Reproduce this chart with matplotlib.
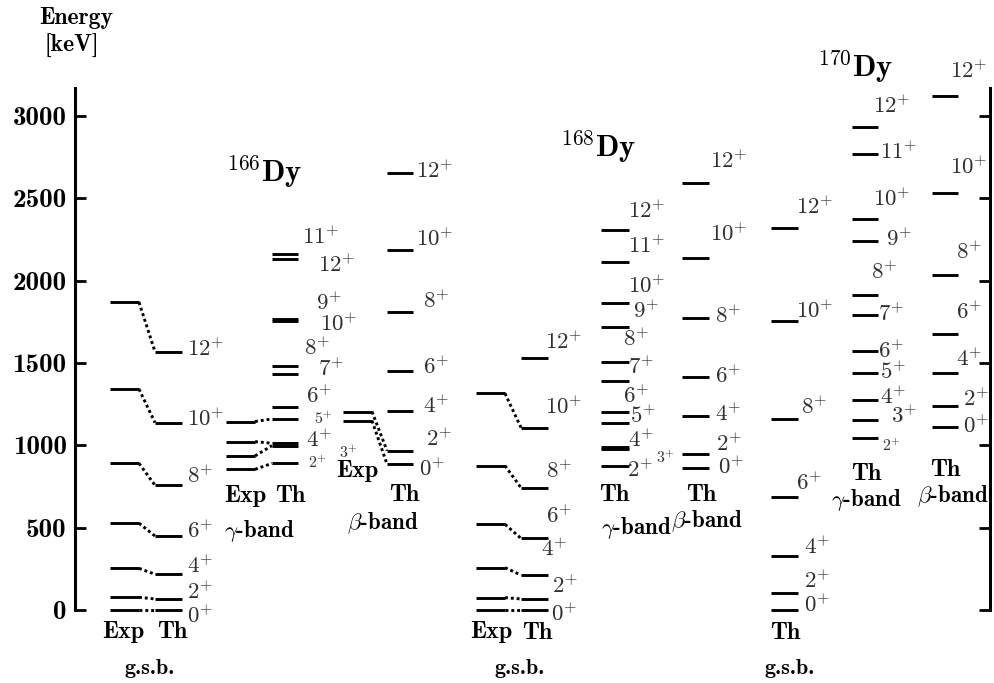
import matplotlib
matplotlib.use("Agg")
import matplotlib.pyplot as plt

# ---------------- data (keV) ----------------
gsb_spins = [0, 2, 4, 6, 8, 10, 12]
beta_spins = [0, 2, 4, 6, 8, 10, 12]
gam_spins = [2, 3, 4, 5, 6, 7, 8, 9, 10, 11, 12]

dy166_gsb_exp = [0, 77, 253, 527, 890, 1341, 1868]
dy166_gsb_th = [0, 67, 217, 449, 757, 1137, 1568]
dy166_gam_exp_spins = [2, 3, 4, 5]
dy166_gam_exp = [854, 935, 1022, 1144]
dy166_gam_th = [890, 998, 1012, 1160, 1230, 1432, 1483, 1768, 1752, 2160, 2128]
dy166_beta_exp_spins = [0, 2]
dy166_beta_exp = [1149, 1204]
dy166_beta_th = [886, 967, 1210, 1453, 1811, 2185, 2651]

dy168_gsb_exp_spins = [0, 2, 4, 6, 8, 10]
dy168_gsb_exp = [0, 75, 257, 520, 876, 1315]
dy168_gsb_th = [0, 67, 212, 435, 742, 1107, 1528]
dy168_gam_th = [872, 976, 987, 1133, 1200, 1392, 1503, 1720, 1866, 2114, 2307]
dy168_beta_th = [860, 945, 1179, 1416, 1774, 2135, 2594]

dy170_gsb_th = [0, 101, 330, 684, 1160, 1756, 2321]
dy170_gam_th = [1046, 1153, 1275, 1437, 1574, 1791, 1912, 2240, 2373, 2768, 2932]
dy170_beta_th = [1113, 1238, 1441, 1675, 2033, 2533, 3120]

yticks = [0, 500, 1000, 1500, 2000, 2500, 3000]

# ---------------- style / layout ----------------
plt.rcParams['mathtext.fontset'] = 'cm'
plt.rcParams['font.family'] = ['cmb10', 'DejaVu Sans']
plt.rcParams['axes.unicode_minus'] = False

W, H = 995, 683
Y0, SCALE = 610, 6.07          # pixel row of 0 keV, keV per pixel


def E(ypx):
    """pixel row -> energy coordinate (layout helper for text placement)"""
    return (Y0 - ypx) * SCALE


fig = plt.figure(figsize=(W / 100, H / 100), dpi=100)
ax = fig.add_axes([0, 0, 1, 1])
ax.set_xlim(0, W)
ax.set_ylim(E(H), E(0))
ax.patch.set_alpha(0)

for s in ('top', 'bottom'):
    ax.spines[s].set_visible(False)
ax.spines['left'].set_position(('data', 75))
ax.spines['right'].set_position(('data', 990))
ax.spines['left'].set_bounds(0, E(88))
ax.spines['right'].set_bounds(0, E(88))
for s in ('left', 'right'):
    ax.spines[s].set_linewidth(2.2)
ax.set_xticks([])
ax.set_yticks(yticks)
ax.set_yticklabels([str(v) for v in yticks])
ax.tick_params(axis='y', direction='in', length=8, width=2, left=True, right=True,
               labelleft=True, labelright=False, labelsize=19.5, pad=6)
for lab in ax.get_yticklabels():
    lab.set_fontfamily('cmb10')

LW = 2.1
LCOL = '#303030'
FS_LAB = 16.5
FS_SMALL = 11.5
FS_B = 17.5
FS_BAND = 16.5


def levels(x0, x1, vals):
    for v in vals:
        ax.plot([x0, x1], [v, v], color='black', lw=LW, solid_capstyle='butt')


def connect(xa, xb, va, vb):
    for a, b in zip(va, vb):
        ax.plot([xa, xb], [a, b], color='black', lw=LW, linestyle=(0, (1, 1)),
                dash_capstyle='butt')


def labels(spins, pos, small=()):
    for J, (x, y) in zip(spins, pos):
        fs = FS_SMALL if J in small else FS_LAB
        ax.text(x, E(y), r'$%d^{+}$' % J, fontsize=fs, color=LCOL,
                ha='left', va='center')


def btext(x, y, s, fs=FS_B):
    ax.text(x, E(y), s, fontsize=fs, ha='center', va='center',
            fontfamily='cmb10', color='black')


# ---------- 166Dy ----------
levels(110, 139, dy166_gsb_exp)
levels(155, 182, dy166_gsb_th)
connect(139, 155, dy166_gsb_exp, dy166_gsb_th)
labels(gsb_spins, [(187, 617), (187, 593), (187, 567), (187, 532),
                   (187, 477), (187, 420), (187, 350)])

levels(226, 255, dy166_gam_exp)
levels(272, 298, dy166_gam_th)
connect(255, 272, dy166_gam_exp,
        [dy166_gam_th[gam_spins.index(j)] for j in dy166_gam_exp_spins])
labels(gam_spins, [(308, 463), (339, 453), (306, 441), (314, 419), (306, 397),
                   (318, 370), (304, 349), (316, 304), (320, 325), (302, 238),
                   (318, 266)], small=(2, 3, 5))

levels(343, 372, dy166_beta_exp)
levels(387, 413, dy166_beta_th)
connect(372, 387, dy166_beta_exp,
        [dy166_beta_th[beta_spins.index(j)] for j in dy166_beta_exp_spins])
labels(beta_spins, [(419, 470), (426, 440), (423, 407), (423, 368), (423, 302),
                    (416, 240), (416, 172)])

# ---------- 168Dy ----------
levels(476, 505, dy168_gsb_exp)
levels(521, 548, dy168_gsb_th)
connect(505, 521, dy168_gsb_exp, dy168_gsb_th[:len(dy168_gsb_exp)])
labels(gsb_spins, [(551, 615), (552, 587), (541, 550), (546, 517), (546, 472),
                   (545, 408), (545, 343)])

levels(601, 629, dy168_gam_th)
labels(gam_spins, [(627, 471), (656, 458), (628, 441), (630, 417), (623, 397),
                   (628, 368), (623, 340), (633, 312), (628, 287), (628, 247),
                   (628, 212)], small=(3,))

levels(682, 709, dy168_beta_th)
labels(beta_spins, [(718, 468), (716, 445), (715, 415), (715, 377), (715, 317),
                    (710, 235), (710, 162)])

# ---------- 170Dy ----------
levels(771, 798, dy170_gsb_th)
labels(gsb_spins, [(804, 606), (804, 582), (804, 548), (796, 484), (801, 408),
                   (796, 312), (796, 208)])

levels(852, 878, dy170_gam_th)
labels(gam_spins, [(882, 446), (891, 417), (880, 398), (880, 373), (878, 352),
                   (878, 315), (871, 273), (886, 240), (873, 200), (880, 153),
                   (873, 107)], small=(2,))

levels(932, 958, dy170_beta_th)
labels(beta_spins, [(963, 427), (963, 400), (956, 360), (956, 313), (956, 253),
                    (950, 168), (950, 72)])

# ---------- text ----------
btext(76, 18, 'Energy', 17)
btext(72, 46, '[keV]', 17)

btext(123, 632, 'Exp'); btext(172, 632, 'Th'); btext(150, 668, 'g.s.b.', 16)
btext(245, 496, 'Exp'); btext(290, 496, 'Th'); btext(259, 531, r'$\gamma$-band', FS_BAND)
btext(357, 471, 'Exp'); btext(404, 495, 'Th'); btext(383, 523, r'$\beta$-band', FS_BAND)
btext(264, 172, r'$^{166}$Dy', 22)

btext(491, 632, 'Exp'); btext(537, 633, 'Th'); btext(520, 668, 'g.s.b.', 16)
btext(614, 495, 'Th'); btext(636, 528, r'$\gamma$-band', FS_BAND)
btext(701, 495, 'Th'); btext(707, 521, r'$\beta$-band', FS_BAND)
btext(598, 147, r'$^{168}$Dy', 22)

btext(785, 633, 'Th'); btext(790, 668, 'g.s.b.', 16)
btext(866, 474, 'Th'); btext(866, 500, r'$\gamma$-band', FS_BAND)
btext(945, 470, 'Th'); btext(953, 496, r'$\beta$-band', FS_BAND)
btext(855, 67, r'$^{170}$Dy', 22)

fig.savefig('out.png', dpi=100)
